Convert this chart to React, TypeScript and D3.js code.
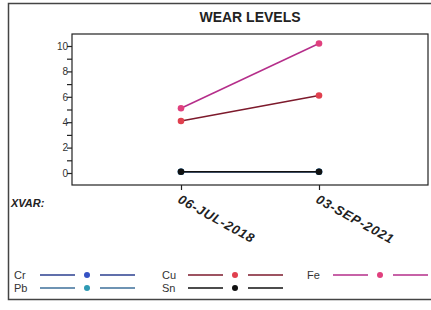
import React, { useRef, useEffect } from "react";
import * as d3 from "d3";

const dates = ["06-JUL-2018", "03-SEP-2021"];
const crValues = [0.1, 0.1];
const pbValues = [0.1, 0.1];
const cuValues = [4.1, 6.1];
const feValues = [5.1, 10.2];
const snValues = [0.1, 0.1];
const yTicks = [0, 2, 4, 6, 8, 10];

const series = [
  { name: "Cr", values: crValues, line: "#2b3f8f", dot: "#3552c4" },
  { name: "Pb", values: pbValues, line: "#3e6f9a", dot: "#2f9ab4" },
  { name: "Cu", values: cuValues, line: "#7d1a2c", dot: "#e0404e" },
  { name: "Fe", values: feValues, line: "#b52e8a", dot: "#e0407e" },
  { name: "Sn", values: snValues, line: "#111111", dot: "#111111" },
];

function App() {
  const svgRef = useRef<SVGSVGElement>(null);

  const svgWidth = 431;
  const svgHeight = 310;
  const left = 72;
  const right = 428;
  const top = 34;
  const bottom = 185;

  useEffect(() => {
    const svg = d3.select(svgRef.current);
    svg.selectAll("*").remove();

    // Scales
    const xScale = d3.scalePoint().domain(dates).range([181, 319]);
    const yScale = d3.scaleLinear().domain([0, 10]).range([173, 46]);

    // Outer border
    svg
      .append("rect")
      .attr("x", 8.5)
      .attr("y", 3.5)
      .attr("width", 430)
      .attr("height", 296)
      .attr("fill", "none")
      .attr("stroke", "#444")
      .attr("stroke-width", 1.5);

    // Title
    svg
      .append("text")
      .attr("x", (left + right) / 2)
      .attr("y", 22)
      .attr("text-anchor", "middle")
      .attr("font-family", "Liberation Sans, Arial, sans-serif")
      .attr("font-weight", "bold")
      .attr("font-size", "14px")
      .attr("fill", "#222")
      .text("WEAR LEVELS");

    // Plot frame
    svg
      .append("rect")
      .attr("x", left)
      .attr("y", top)
      .attr("width", right - left)
      .attr("height", bottom - top)
      .attr("fill", "none")
      .attr("stroke", "#222")
      .attr("stroke-width", 1.2);

    // Y axis
    const yAxis = d3
      .axisLeft(yScale)
      .tickValues(d3.range(0, 11, 1))
      .tickSize(5)
      .tickFormat((d) => (yTicks.includes(+d) ? String(d) : ""));
    const yg = svg
      .append("g")
      .attr("transform", `translate(${left},0)`)
      .call(yAxis);
    yg.select(".domain").remove();
    yg.selectAll(".tick line").attr("stroke", "#222").attr("stroke-width", 1.2);
    yg.selectAll(".tick text")
      .attr("font-family", "Liberation Sans, Arial, sans-serif")
      .attr("font-size", "10px")
      .attr("fill", "#333")
      .attr("x", -4);

    // X axis
    const xAxis = d3.axisBottom(xScale).tickSize(5).tickFormat(() => "");
    const xg = svg
      .append("g")
      .attr("transform", `translate(0,${bottom})`)
      .call(xAxis);
    xg.select(".domain").remove();
    xg.selectAll(".tick line").attr("stroke", "#222").attr("stroke-width", 1.2);

    svg
      .selectAll(".xlabel")
      .data(dates)
      .join("text")
      .attr("class", "xlabel")
      .attr("transform", (d) => `translate(${(xScale(d) as number) - 4},${bottom + 17}) rotate(29)`)
      .attr("font-family", "Liberation Sans, Arial, sans-serif")
      .attr("font-weight", "bold")
      .attr("font-style", "italic")
      .attr("font-size", "13px")
      .attr("letter-spacing", "0.8px")
      .attr("fill", "#222")
      .text((d) => d);

    svg
      .append("text")
      .attr("x", 11)
      .attr("y", 207)
      .attr("font-family", "Liberation Sans, Arial, sans-serif")
      .attr("font-weight", "bold")
      .attr("font-style", "italic")
      .attr("font-size", "11px")
      .attr("fill", "#222")
      .text("XVAR:");

    // Lines and points
    const line = d3
      .line<number>()
      .x((_, i) => xScale(dates[i]) as number)
      .y((v) => yScale(v));

    series.forEach((s) => {
      svg
        .append("path")
        .datum(s.values)
        .attr("d", line)
        .attr("fill", "none")
        .attr("stroke", s.line)
        .attr("stroke-width", 1.5);
      svg
        .selectAll(`.pt-${s.name}`)
        .data(s.values)
        .join("circle")
        .attr("class", `pt-${s.name}`)
        .attr("cx", (_, i) => xScale(dates[i]) as number)
        .attr("cy", (v) => yScale(v))
        .attr("r", 3.3)
        .attr("fill", s.dot);
    });

    // Legend
    const legendPos: Record<string, [number, number]> = {
      Cr: [14, 275],
      Pb: [14, 288],
      Cu: [162, 275],
      Sn: [162, 288],
      Fe: [307, 275],
    };
    series.forEach((s) => {
      const [lx, ly] = legendPos[s.name];
      const g = svg.append("g").attr("transform", `translate(${lx},${ly})`);
      g.append("text")
        .attr("x", 0)
        .attr("y", 4)
        .attr("font-family", "Liberation Sans, Arial, sans-serif")
        .attr("font-size", "11px")
        .attr("fill", "#333")
        .text(s.name);
      g.append("line").attr("x1", 26).attr("x2", 61).attr("stroke", s.line).attr("stroke-width", 1.5);
      g.append("circle").attr("cx", 73).attr("r", 3).attr("fill", s.dot);
      g.append("line").attr("x1", 86).attr("x2", 121).attr("stroke", s.line).attr("stroke-width", 1.5);
    });
  }, []);

  return (
    <svg
      ref={svgRef}
      width={svgWidth}
      height={svgHeight}
      style={{ position: "absolute", left: 0, top: 0, background: "#fff" }}
    />
  );
}

export default App;
